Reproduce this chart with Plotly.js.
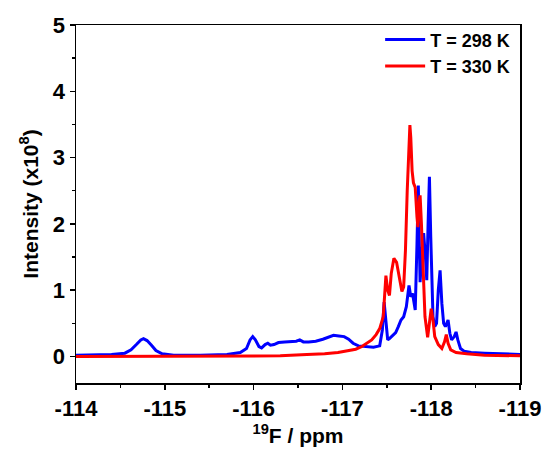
<!DOCTYPE html>
<html>
<head>
<meta charset="utf-8">
<script src="https://cdn.plot.ly/plotly-3.0.1.min.js"></script>
<style>html,body{margin:0;padding:0;background:#fff;}#chart{width:549px;height:449px;}</style>
</head>
<body>
<div id="chart"></div>
<script>
// 298 K spectrum (ppm, intensity x1e8)
const blueX = [-114.00,-114.20,-114.40,-114.55,-114.62,-114.68,-114.73,-114.76,-114.80,-114.85,-114.90,-114.97,-115.10,-115.40,-115.70,-115.85,-115.92,-115.96,-115.99,-116.02,-116.06,-116.09,-116.13,-116.16,-116.19,-116.23,-116.28,-116.35,-116.42,-116.48,-116.52,-116.56,-116.62,-116.70,-116.78,-116.84,-116.90,-116.96,-117.02,-117.07,-117.12,-117.18,-117.25,-117.35,-117.42,-117.45,-117.47,-117.49,-117.51,-117.53,-117.57,-117.60,-117.63,-117.66,-117.69,-117.72,-117.75,-117.77,-117.79,-117.82,-117.84,-117.855,-117.865,-117.875,-117.895,-117.915,-117.935,-117.95,-117.965,-117.98,-117.995,-118.02,-118.04,-118.06,-118.08,-118.10,-118.12,-118.14,-118.16,-118.19,-118.21,-118.23,-118.26,-118.28,-118.30,-118.33,-118.37,-118.45,-118.60,-118.80,-119.00];
const blueY = [0.02,0.02,0.03,0.05,0.10,0.18,0.25,0.27,0.24,0.17,0.09,0.04,0.02,0.02,0.03,0.06,0.12,0.25,0.30,0.25,0.15,0.13,0.18,0.20,0.17,0.18,0.21,0.22,0.22,0.23,0.25,0.22,0.22,0.23,0.26,0.29,0.32,0.31,0.30,0.26,0.20,0.16,0.15,0.14,0.16,0.40,0.82,0.55,0.25,0.27,0.32,0.36,0.45,0.55,0.60,0.75,1.07,0.90,0.95,0.70,1.70,2.58,1.80,1.12,1.55,1.86,1.50,1.15,2.00,2.71,1.80,0.60,0.45,0.50,1.00,1.30,0.80,0.50,0.45,0.55,0.35,0.25,0.30,0.37,0.25,0.12,0.08,0.06,0.05,0.04,0.03];
// 330 K spectrum
const redX = [-114.00,-114.50,-115.00,-115.50,-116.00,-116.30,-116.60,-116.80,-116.95,-117.05,-117.15,-117.22,-117.28,-117.33,-117.38,-117.42,-117.46,-117.48,-117.49,-117.51,-117.53,-117.55,-117.58,-117.61,-117.64,-117.67,-117.69,-117.71,-117.73,-117.75,-117.76,-117.77,-117.785,-117.80,-117.82,-117.84,-117.85,-117.865,-117.875,-117.89,-117.91,-117.93,-117.96,-117.98,-118.00,-118.02,-118.04,-118.08,-118.12,-118.15,-118.17,-118.19,-118.22,-118.28,-118.40,-118.60,-119.00];
const redY = [0.00,0.00,0.00,0.00,0.01,0.01,0.03,0.04,0.06,0.08,0.11,0.15,0.20,0.25,0.33,0.42,0.60,1.00,1.22,1.00,0.92,1.25,1.48,1.42,1.20,0.98,1.05,1.60,2.50,3.30,3.49,3.30,2.80,2.62,2.55,2.10,1.95,2.35,2.43,2.00,1.20,0.60,0.29,0.50,0.72,0.55,0.30,0.18,0.12,0.22,0.33,0.20,0.10,0.06,0.04,0.02,0.01];
const seriesNames = ["T = 298 K","T = 330 K"];
const xTickVals = [-114,-115,-116,-117,-118,-119];
const yTickVals = [0,1,2,3,4,5];

const FONT = "Arial, 'Liberation Sans', sans-serif";
const traces = [
  {x: blueX, y: blueY, name: seriesNames[0], mode: "lines", line: {color: "#0000ff", width: 3}},
  {x: redX, y: redY, name: seriesNames[1], mode: "lines", line: {color: "#ff0000", width: 3}}
];
const layout = {
  width: 549, height: 449,
  margin: {l: 76, r: 29, t: 25, b: 66},
  paper_bgcolor: "#fff", plot_bgcolor: "#fff",
  font: {family: FONT, color: "#000"},
  showlegend: true,
  legend: {x: 0.685, y: 1.01, xanchor: "left", yanchor: "top", bgcolor: "rgba(0,0,0,0)",
           font: {family: FONT, size: 18, weight: "bold", color: "#000"}, itemwidth: 40, tracegroupgap: 0},
  xaxis: {
    range: [-114, -119], tickvals: xTickVals, ticktext: xTickVals.map(String),
    ticks: "outside", ticklen: 5, tickwidth: 1.5, tickcolor: "#000",
    minor: {dtick: 0.5, ticks: "outside", ticklen: 3, tickwidth: 1.5, tickcolor: "#000"},
    showline: true, linecolor: "#000", linewidth: 1.5, mirror: true,
    showgrid: false, zeroline: false,
    tickfont: {family: FONT, size: 22, weight: "bold"},
    title: {text: "<sup>19</sup>F / ppm", font: {family: FONT, size: 21, weight: "bold"}, standoff: 0}
  },
  yaxis: {
    range: [-0.4, 5], tickvals: yTickVals,
    ticks: "outside", ticklen: 5, tickwidth: 1.5, tickcolor: "#000",
    minor: {dtick: 0.5, ticks: "outside", ticklen: 3, tickwidth: 1.5, tickcolor: "#000"},
    showline: true, linecolor: "#000", linewidth: 1.5, mirror: true,
    showgrid: false, zeroline: false,
    tickfont: {family: FONT, size: 22, weight: "bold"},
    title: {text: "Intensity (x10<sup>8</sup>)", font: {family: FONT, size: 21, weight: "bold"}, standoff: 8}
  }
};
Plotly.newPlot("chart", traces, layout, {staticPlot: true, displayModeBar: false});
</script>
</body>
</html>
